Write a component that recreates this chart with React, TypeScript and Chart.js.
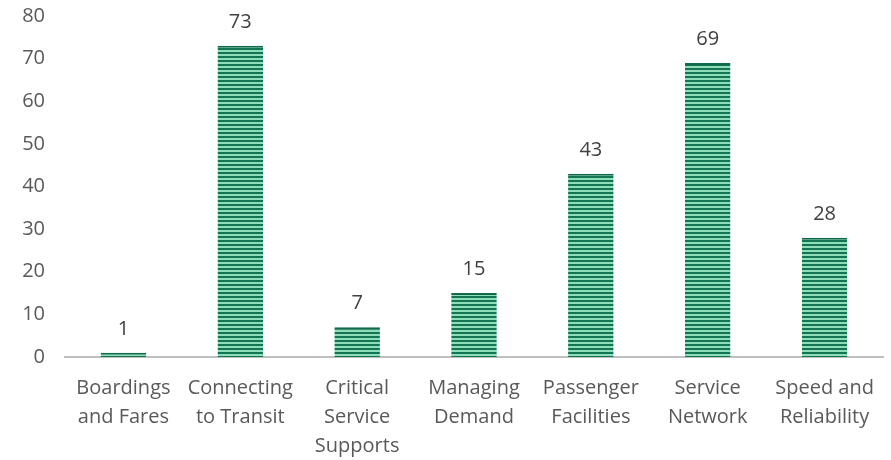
import React, { useEffect, useRef } from "react";
import { Chart, registerables } from "chart.js";

Chart.register(...registerables);

const categories: string[][] = [
  ["Boardings", "and Fares"],
  ["Connecting", "to Transit"],
  ["Critical", "Service", "Supports"],
  ["Managing", "Demand"],
  ["Passenger", "Facilities"],
  ["Service", "Network"],
  ["Speed and", "Reliability"],
];
const counts: number[] = [1, 73, 7, 15, 43, 69, 28];
const yTicks: number[] = [0, 10, 20, 30, 40, 50, 60, 70, 80];

const FONT = "'Open Sans', 'Liberation Sans', sans-serif";
const TEXT = "#595959";

function makePattern(ctx: CanvasRenderingContext2D): CanvasPattern | string {
  const c = document.createElement("canvas");
  c.width = 4;
  c.height = 4;
  const p = c.getContext("2d");
  if (!p) return "#1a8a5f";
  p.fillStyle = "#127553";
  p.fillRect(0, 0, 4, 2);
  p.fillStyle = "#8fdcb8";
  p.fillRect(0, 2, 4, 2);
  return ctx.createPattern(c, "repeat") || "#1a8a5f";
}

const valueLabels = {
  id: "valueLabels",
  afterDatasetsDraw(chart: any) {
    const ctx = chart.ctx;
    const meta = chart.getDatasetMeta(0);
    ctx.save();
    ctx.font = `20px ${FONT}`;
    ctx.fillStyle = "#404040";
    ctx.textAlign = "center";
    ctx.textBaseline = "alphabetic";
    meta.data.forEach((el: any, i: number) => {
      ctx.fillText(String(counts[i]), el.x, el.y - 18);
    });
    ctx.restore();
  },
};

export default function App() {
  const ref = useRef<HTMLCanvasElement>(null);
  useEffect(() => {
    document.body.style.margin = "0";
    const canvas = ref.current!;
    const ctx = canvas.getContext("2d")!;
    const chart = new Chart(ctx, {
      type: "bar",
      data: {
        labels: categories,
        datasets: [
          {
            data: counts,
            backgroundColor: makePattern(ctx) as any,
            borderColor: "#0f6b4b",
            borderWidth: { top: 2, left: 0, right: 0, bottom: 0 } as any,
            categoryPercentage: 1,
            barPercentage: 0.39,
          },
        ],
      },
      options: {
        animation: false,
        responsive: false,
        events: [],
        layout: { padding: { top: 16, right: 8, left: 0, bottom: 0 } },
        plugins: { legend: { display: false }, tooltip: { enabled: false } },
        scales: {
          x: {
            grid: { display: false, drawTicks: false },
            border: { display: true, color: "#bfbfbf", width: 2 },
            ticks: {
              color: TEXT,
              font: { family: FONT, size: 20, lineHeight: 1.45 },
              padding: 17,
              maxRotation: 0,
              autoSkip: false,
            },
            afterFit(scale: any) {
              scale.height = 103;
              scale.paddingLeft = 0;
              scale.paddingRight = 0;
            },
          },
          y: {
            min: 0,
            max: 80,
            afterBuildTicks(scale: any) {
              scale.ticks = yTicks.map((v) => ({ value: v }));
            },
            grid: { display: false, drawTicks: false },
            border: { display: false },
            ticks: {
              color: TEXT,
              font: { family: FONT, size: 20 },
              padding: 20,
            },
            afterFit(scale: any) {
              scale.width = 65;
              scale.paddingTop = 0;
              scale.paddingBottom = 0;
            },
          },
        },
      },
      plugins: [valueLabels],
    });
    return () => chart.destroy();
  }, []);
  return (
    <div style={{ width: 891, height: 460 }}>
      <canvas ref={ref} width={891} height={460} style={{ display: "block" }} />
    </div>
  );
}
